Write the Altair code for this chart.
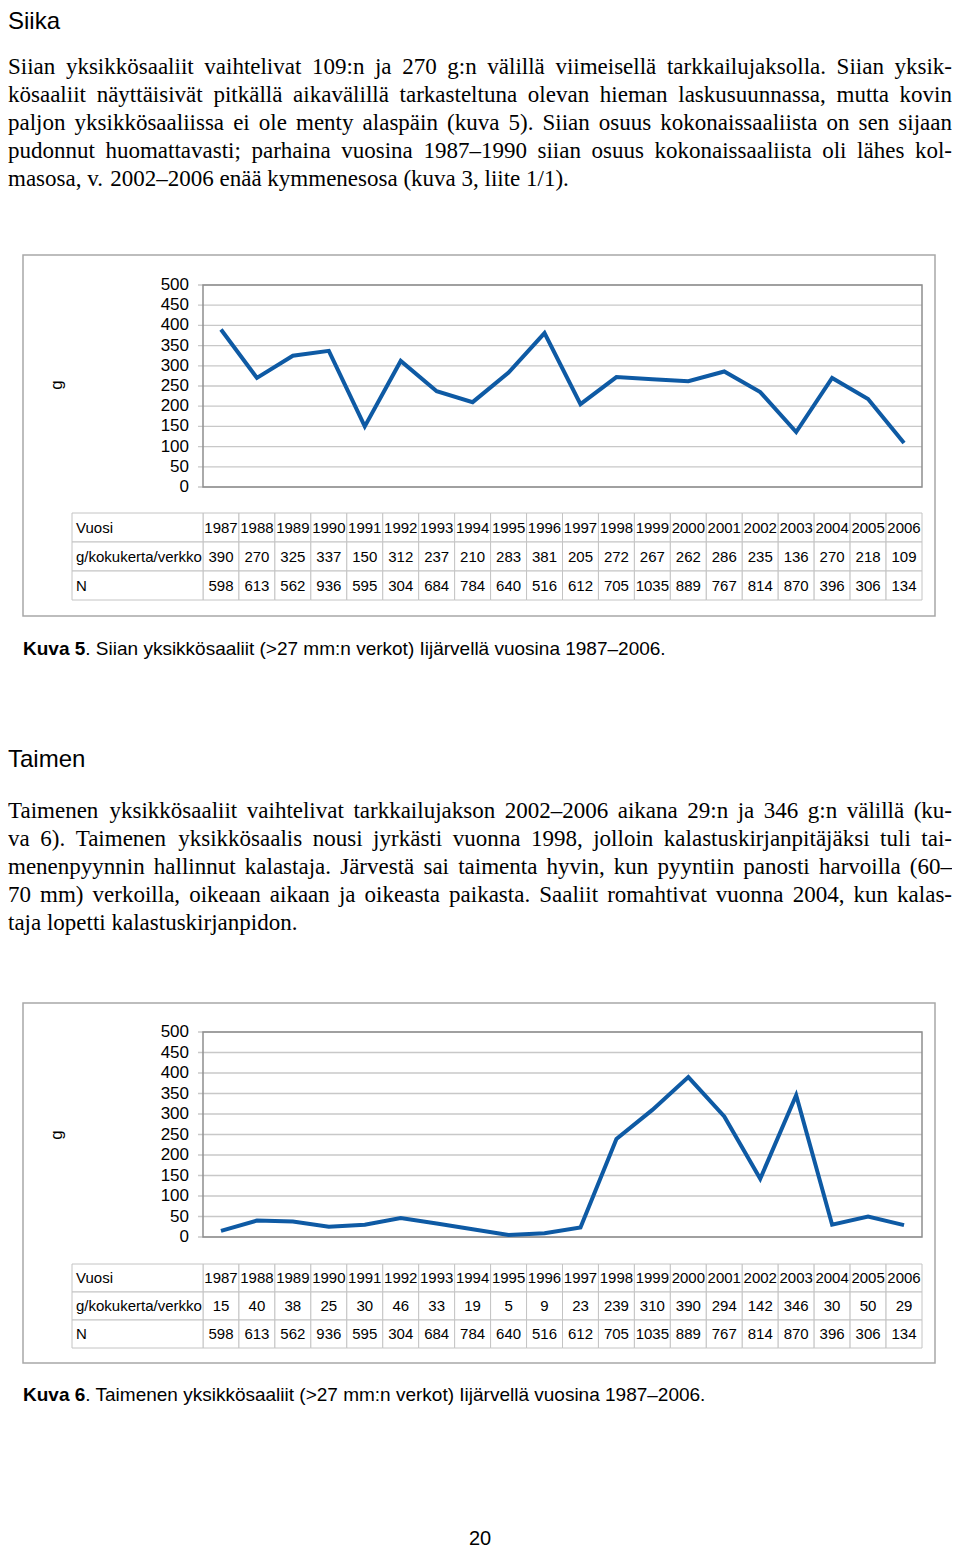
import altair as alt
import pandas as pd

# ---------------- data ----------------
years = [1987, 1988, 1989, 1990, 1991, 1992, 1993, 1994, 1995, 1996,
         1997, 1998, 1999, 2000, 2001, 2002, 2003, 2004, 2005, 2006]
siika_g = [390, 270, 325, 337, 150, 312, 237, 210, 283, 381,
           205, 272, 267, 262, 286, 235, 136, 270, 218, 109]
taimen_g = [15, 40, 38, 25, 30, 46, 33, 19, 5, 9,
            23, 239, 310, 390, 294, 142, 346, 30, 50, 29]
n_values = [598, 613, 562, 936, 595, 304, 684, 784, 640, 516,
            612, 705, 1035, 889, 767, 814, 870, 396, 306, 134]
y_ticks = [0, 50, 100, 150, 200, 250, 300, 350, 400, 450, 500]
row_labels = ["Vuosi", "g/kokukerta/verkko", "N"]

para1 = [
    "Siian yksikkösaaliit vaihtelivat 109:n ja 270 g:n välillä viimeisellä tarkkailujaksolla. Siian yksik-",
    "kösaaliit näyttäisivät pitkällä aikavälillä tarkasteltuna olevan hieman laskusuunnassa, mutta kovin",
    "paljon yksikkösaaliissa ei ole menty alaspäin (kuva 5). Siian osuus kokonaissaaliista on sen sijaan",
    "pudonnut huomattavasti; parhaina vuosina 1987–1990 siian osuus kokonaissaaliista oli lähes kol-",
    "masosa, v. 2002–2006 enää kymmenesosa (kuva 3, liite 1/1).",
]
para2 = [
    "Taimenen yksikkösaaliit vaihtelivat tarkkailujakson 2002–2006 aikana 29:n ja 346 g:n välillä (ku-",
    "va 6). Taimenen yksikkösaalis nousi jyrkästi vuonna 1998, jolloin kalastuskirjanpitäjäksi tuli tai-",
    "menenpyynnin hallinnut kalastaja. Järvestä sai taimenta hyvin, kun pyyntiin panosti harvoilla (60–",
    "70 mm) verkoilla, oikeaan aikaan ja oikeasta paikasta. Saaliit romahtivat vuonna 2004, kun kalas-",
    "taja lopetti kalastuskirjanpidon.",
]
caption1 = ". Siian yksikkösaaliit (>27 mm:n verkot) Iijärvellä vuosina 1987–2006."
caption2 = ". Taimenen yksikkösaaliit (>27 mm:n verkot) Iijärvellä vuosina 1987–2006."

# ---------------- style ----------------
SANS = "Liberation Sans, Arial, sans-serif"
SERIF = "Liberation Serif, Times New Roman, serif"
BLUE = "#0e5aa4"
W, H = 944, 1540
PARA_FS = 23
CAP_FS = 19

# Times (Liberation Serif) advance widths, 1/1000 em, for justification
TIMES = {" ": 250, "a": 444, "b": 500, "c": 444, "d": 500, "e": 444, "f": 333, "g": 500,
         "h": 500, "i": 278, "j": 278, "k": 500, "l": 278, "m": 778, "n": 500, "o": 500,
         "p": 500, "q": 500, "r": 333, "s": 389, "t": 278, "u": 500, "v": 500, "w": 722,
         "x": 500, "y": 500, "z": 444, "ä": 444, "ö": 500, "A": 722, "B": 667, "C": 667,
         "D": 722, "E": 611, "F": 556, "G": 722, "H": 722, "I": 333, "J": 389, "K": 722,
         "L": 611, "M": 889, "N": 722, "O": 722, "P": 556, "R": 667, "S": 556, "T": 611,
         "V": 722, ".": 250, ",": 250, ":": 278, ";": 278, "(": 333, ")": 333, "-": 333,
         "–": 500, "/": 278}


def tw(s, fs):
    return sum(TIMES.get(c, 500) for c in s) * fs / 1000.0


def paragraph(lines, base, lead, fs, left=0.0, right=float(W)):
    rows = []
    for i, line in enumerate(lines):
        words = line.split(" ")
        widths = [tw(w, fs) for w in words]
        if i == len(lines) - 1 or len(words) < 2:
            gap = TIMES[" "] * fs / 1000.0
        else:
            gap = (right - left - sum(widths)) / (len(words) - 1)
        x = left
        for w, wd in zip(words, widths):
            rows.append({"word": w, "px": x, "py": base + i * lead})
            x += wd + gap
    df = pd.DataFrame(rows)
    return alt.Chart(df).mark_text(font=SERIF, fontSize=fs, align="left",
                                   baseline="alphabetic", color="black").encode(
        x=alt.X("px:Q", scale=None, axis=None),
        y=alt.Y("py:Q", scale=None, axis=None),
        text="word:N")


def label(text, x, y, fs, font=SANS, weight="normal", align="left",
          baseline="alphabetic", angle=0):
    return alt.Chart(pd.DataFrame({"t": [text]})).mark_text(
        font=font, fontSize=fs, fontWeight=weight, align=align,
        baseline=baseline, angle=angle, color="black").encode(
        x=alt.value(x), y=alt.value(y), text="t:N")


year_str = [str(y) for y in years]


def panel(values, frame, plot, table, g_y, cap_num, cap_text, cap_y):
    ftop, fbot = frame
    ptop, pbot = plot
    ttop, tbot = table
    yscale = alt.Scale(domain=[0, 500], range=[pbot, ptop], zero=False, nice=False)
    xband = alt.Scale(type="band", domain=year_str, range=[195, 914],
                      paddingInner=0, paddingOuter=0)
    rscale = alt.Scale(type="band", domain=row_labels, range=[ttop, tbot],
                       paddingInner=0, paddingOuter=0)
    one = pd.DataFrame({"k": [0]})
    ticks_df = pd.DataFrame({"tick": y_ticks, "lab": [str(t) for t in y_ticks]})

    layers = []
    layers.append(alt.Chart(one).mark_rect(fill="white", stroke="#a8a8a8", strokeWidth=1.5).encode(
        x=alt.value(15), x2=alt.value(927), y=alt.value(ftop), y2=alt.value(fbot)))
    layers.append(alt.Chart(ticks_df).mark_rule(color="#c8c8c8", strokeWidth=1.3).encode(
        y=alt.Y("tick:Q", scale=yscale, axis=None), x=alt.value(190), x2=alt.value(914)))
    layers.append(alt.Chart(pd.DataFrame({"lo": [0], "hi": [500]})).mark_rect(
        fillOpacity=0, stroke="#8e8e8e", strokeWidth=1.5).encode(
        y=alt.Y("lo:Q", scale=yscale, axis=None), y2="hi:Q",
        x=alt.value(195), x2=alt.value(914)))
    layers.append(alt.Chart(ticks_df).mark_text(font=SANS, fontSize=17, align="right",
                                                baseline="middle", color="black").encode(
        y=alt.Y("tick:Q", scale=yscale, axis=None), x=alt.value(181), text="lab:N"))
    layers.append(alt.Chart(pd.DataFrame({"year": year_str, "g": values})).mark_line(
        color=BLUE, strokeWidth=4).encode(
        x=alt.X("year:N", scale=xband, axis=None, bandPosition=0.5),
        y=alt.Y("g:Q", scale=yscale, axis=None)))
    layers.append(label("g", 49, g_y, 17, align="center", baseline="middle", angle=270))

    cells = []
    for i, y in enumerate(years):
        cells.append({"year": str(y), "row": row_labels[0], "txt": str(y)})
        cells.append({"year": str(y), "row": row_labels[1], "txt": str(values[i])})
        cells.append({"year": str(y), "row": row_labels[2], "txt": str(n_values[i])})
    cells_df = pd.DataFrame(cells)
    layers.append(alt.Chart(cells_df).mark_rect(fill="white", stroke="#c4c4c4", strokeWidth=1).encode(
        x=alt.X("year:N", scale=xband, axis=None),
        y=alt.Y("row:N", scale=rscale, axis=None)))
    layers.append(alt.Chart(pd.DataFrame({"row": row_labels})).mark_rect(
        fill="white", stroke="#c4c4c4", strokeWidth=1).encode(
        x=alt.value(64), x2=alt.value(195),
        y=alt.Y("row:N", scale=rscale, axis=None)))
    layers.append(alt.Chart(cells_df).mark_text(font=SANS, fontSize=15, baseline="middle",
                                                align="center", color="black").encode(
        x=alt.X("year:N", scale=xband, axis=None, bandPosition=0.5),
        y=alt.Y("row:N", scale=rscale, axis=None, bandPosition=0.5),
        text="txt:N"))
    layers.append(alt.Chart(pd.DataFrame({"row": row_labels})).mark_text(
        font=SANS, fontSize=15, baseline="middle", align="left", color="black").encode(
        x=alt.value(68),
        y=alt.Y("row:N", scale=rscale, axis=None, bandPosition=0.5),
        text="row:N"))
    layers.append(label(cap_num, 15, cap_y, CAP_FS, weight="bold"))
    layers.append(label(cap_text, 15 + 3279 * CAP_FS / 1000.0, cap_y, CAP_FS))
    return layers


layers = []
layers.append(label("Siika", 0, 21, 24))
layers.append(paragraph(para1, 66, 28, PARA_FS))
layers += panel(siika_g, (247, 608), (277, 479), (505, 592), 377, "Kuva 5", caption1, 647)
layers.append(label("Taimen", 0, 759, 24))
layers.append(paragraph(para2, 810, 28, PARA_FS))
layers += panel(taimen_g, (995, 1355), (1024, 1229), (1256, 1340), 1127, "Kuva 6", caption2, 1393)
layers.append(label("20", 472, 1537, 20, align="center"))

chart = alt.layer(*layers).resolve_scale(
    x="independent", y="independent"
).properties(
    width=W, height=H, padding=0, autosize=alt.AutoSizeParams(type="none"),
    background="white"
).configure_view(strokeWidth=0)

chart.save("out.html", embed_options={"renderer": "svg", "actions": False})
